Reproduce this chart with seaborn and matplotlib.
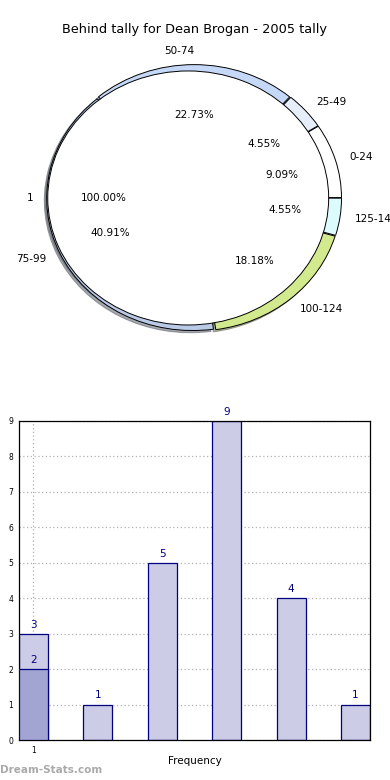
import matplotlib
matplotlib.use("Agg")
import matplotlib.pyplot as plt
import seaborn as sns
import pandas as pd

# ==========================================
# DATA

ring_labels = ["0-24", "25-49", "50-74", "75-99", "100-124", "125-149"]
ring_counts = [2, 1, 5, 9, 4, 1]
ring_colors = ["#ffffff", "#e6eefc", "#c5d8f8", "#b9c9e6", "#d3e98d", "#dcfbfd"]

inner_labels = ["1"]
inner_counts = [22]

bar_groups = ["1", "2", "3", "4", "5", "6"]
bar_light = [3, 1, 5, 9, 4, 1]
bar_dark_groups = ["1"]
bar_dark = [2]

title = "Behind tally for Dean Brogan - 2005 tally"

sns.set_style("white")
plt.rcParams['font.family'] = ['DejaVu Sans']
plt.rcParams['text.color'] = 'black'
plt.rcParams['axes.labelcolor'] = 'black'
plt.rcParams['xtick.color'] = 'black'
plt.rcParams['ytick.color'] = 'black'

fig = plt.figure(figsize=(3.9, 7.8), dpi=100)

# ==========================================
# PIE (outer ring + inner pie)

ax_pie = fig.add_axes([0, 0.5385, 1, 0.4103])

shadow_style = dict(ox=-0.012, oy=-0.012, shade=0.6)

ax_pie.pie(
    ring_counts,
    labels=ring_labels,
    colors=ring_colors,
    autopct="%.2f%%",
    pctdistance=0.62,
    labeldistance=1.1,
    shadow=shadow_style,
    explode=[0.01] * len(ring_counts),
    wedgeprops=dict(width=0.12, edgecolor="black", linewidth=0.7),
    textprops=dict(fontsize=7.5, color="black"),
)

ax_pie.pie(
    inner_counts,
    labels=inner_labels,
    colors=["white"],
    autopct="%.2f%%",
    pctdistance=0.6,
    labeldistance=1.1,
    radius=0.962,
    center=(-0.04, 0),
    shadow=shadow_style,
    wedgeprops=dict(edgecolor="black", linewidth=0.7),
    textprops=dict(fontsize=7.5, color="black"),
)

ax_pie.set_aspect("auto")
ax_pie.set_xlim(-1.329, 1.342)
ax_pie.set_ylim(-1.227, 1.197)
ax_pie.axis("off")

fig.text(0.5, 1 - 30 / 780, title, ha="center", va="center", fontsize=9.3)

# ==========================================
# BAR CHART

ax = fig.add_axes([19 / 390, 40 / 780, 351 / 390, 319 / 780])

light_df = pd.DataFrame({"group": bar_groups, "count": bar_light})
dark_df = pd.DataFrame({"group": bar_dark_groups, "count": bar_dark})

sns.barplot(
    data=light_df, x="group", y="count", order=bar_groups,
    color="#cccce6", saturation=1, width=0.45,
    edgecolor="#000080", linewidth=0.9, ax=ax, zorder=2,
)
sns.barplot(
    data=dark_df, x="group", y="count", order=bar_groups,
    color="#a2a4d2", saturation=1, width=0.45,
    edgecolor="#000080", linewidth=0.9, ax=ax, zorder=3,
)

for cont in ax.containers:
    ax.bar_label(cont, padding=3, color="#000080", fontsize=7.5)

ax.set_xlim(-0.225, len(bar_groups) - 1 + 0.225)
ax.set_ylim(0, 9)
ax.set_yticks(range(0, 10))
ax.set_xticks([0])
ax.set_xticklabels(["1"])
ax.tick_params(axis="both", labelsize=5.5, length=2, pad=2)

ax.grid(True, axis="y", linestyle=(0, (1, 2)), color="#b0b0b0", linewidth=0.9, zorder=0)
ax.grid(True, axis="x", linestyle=(0, (1, 2)), color="#b0b0b0", linewidth=0.9, zorder=0)
ax.set_axisbelow(True)

for s in ax.spines.values():
    s.set_color("black")
    s.set_linewidth(0.9)

ax.set_xlabel("Frequency", fontsize=7.5, labelpad=1)
ax.set_ylabel("Stat intervals", fontsize=7.5, labelpad=4)

fig.text(0.0, 1 - 770 / 780, "Dream-Stats.com", ha="left", va="center",
         fontsize=7.5, color="#aaaaaa", fontweight="bold")

plt.savefig("out.png", dpi=100)
